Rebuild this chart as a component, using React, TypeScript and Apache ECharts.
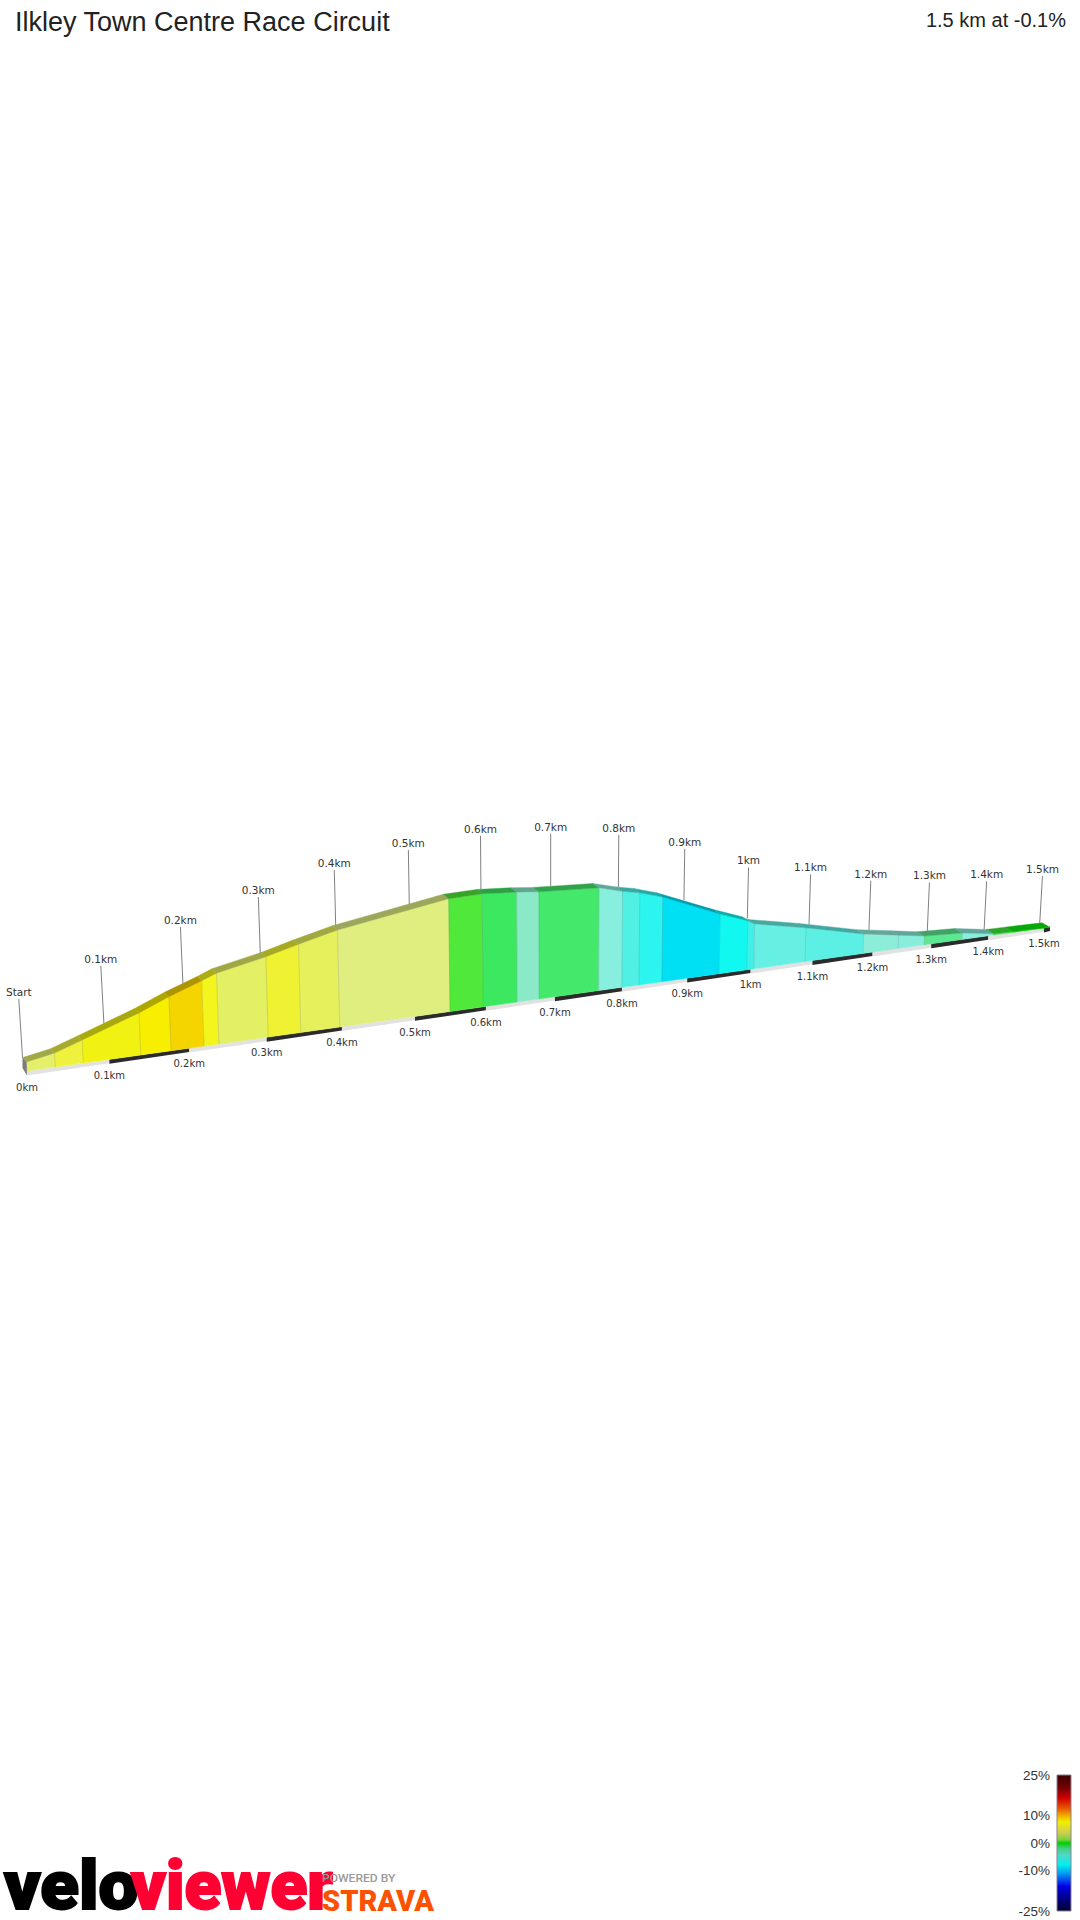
import React, { useEffect, useRef } from "react";
import * as echarts from "echarts";

const titleText = "Ilkley Town Centre Race Circuit";
const summaryText = "1.5 km at -0.1%";

// Segment boundaries along the route (km) and elevation above the base plane (m)
const boundaryKm = [0, 0.034, 0.068, 0.139, 0.177, 0.219, 0.238, 0.302, 0.345, 0.397, 0.549, 0.596, 0.645, 0.677, 0.765, 0.8, 0.826, 0.861, 0.95, 0.994, 1.005, 1.088, 1.184, 1.243, 1.288, 1.354, 1.41, 1.444, 1.511];
const elevationM = [1.8, 2.8, 4.65, 8.6, 11.1, 13.5, 14.7, 16.8, 18.6, 20.6, 24.5, 24.7, 24.2, 23.7, 23.0, 21.6, 20.8, 19.2, 13.7, 11.3, 10.4, 7.9, 4.6, 3.2, 2.1, 1.6, 0.3, 0.2, 0];
const segmentColors = ["#E4F06A", "#EEF23C", "#F2F212", "#F7EE00", "#F5D500", "#F5F51E", "#E4F064", "#EEF232", "#E6F05C", "#E0EE80", "#50E83A", "#3CE860", "#8AEAC8", "#44E86A", "#88EEDD", "#50F0E4", "#2CF4EE", "#00E0F5", "#10F8F0", "#40F0E8", "#66F0E4", "#5CF0E4", "#8CEED8", "#88EEDC", "#5CE890", "#88EEDC", "#40EC40", "#0CF00C"];

const tickKm = [0, 0.1, 0.2, 0.3, 0.4, 0.5, 0.6, 0.7, 0.8, 0.9, 1, 1.1, 1.2, 1.3, 1.4, 1.5];
const upperLabels = ["Start", "0.1km", "0.2km", "0.3km", "0.4km", "0.5km", "0.6km", "0.7km", "0.8km", "0.9km", "1km", "1.1km", "1.2km", "1.3km", "1.4km", "1.5km"];
const lowerLabels = ["0km", "0.1km", "0.2km", "0.3km", "0.4km", "0.5km", "0.6km", "0.7km", "0.8km", "0.9km", "1km", "1.1km", "1.2km", "1.3km", "1.4km", "1.5km"];
const roadBreaks = [0, 0.1, 0.2, 0.3, 0.4, 0.5, 0.6, 0.7, 0.8, 0.9, 1, 1.1, 1.2, 1.3, 1.4, 1.5, 1.511];

const legendTicks = [25, 10, 0, -10, -25];
const legendLabels = ["25%", "10%", "0%", "-10%", "-25%"];

// Projection of (km, metres) onto the page plane
const K = 0.1558;
const A = 836.4;
const X0 = 27;
const Y0 = 1071;
const baseX = (d: number) => X0 + (A * d) / (1 + K * d);
const baseY = (d: number) => Y0 - 0.1406 * (baseX(d) - X0);
const project = (d: number, e: number): [number, number] => {
  const bx = baseX(d);
  const h = (e * 5) / (1 + K * d);
  return [bx + h * (bx - 565) * 1e-4, baseY(d) - h];
};
const backOf = (p: [number, number], d: number): [number, number] => [p[0] - 4 - 2.67 * d, p[1] - 4.4];
const elevAt = (d: number) => {
  for (let i = 0; i < boundaryKm.length - 1; i++) {
    if (d <= boundaryKm[i + 1]) {
      const t = (d - boundaryKm[i]) / (boundaryKm[i + 1] - boundaryKm[i]);
      return elevationM[i] + t * (elevationM[i + 1] - elevationM[i]);
    }
  }
  return 0;
};
const darken = (hex: string, f: number) => {
  const n = parseInt(hex.slice(1), 16);
  const c = [(n >> 16) & 255, (n >> 8) & 255, n & 255].map((v) => Math.round(v * f));
  return `rgb(${c[0]},${c[1]},${c[2]})`;
};

const labelFont = "DejaVu Sans";

function buildOption() {
  const faces = segmentColors.map((_, i) => [boundaryKm[i], elevationM[i], boundaryKm[i + 1], elevationM[i + 1], i]);
  const road = roadBreaks.slice(0, -1).map((d, i) => [d, 0, roadBreaks[i + 1], i]);

  return {
    animation: false,
    backgroundColor: "#ffffff",
    title: [
      { text: titleText, left: 10, top: 3, textStyle: { fontFamily: "Liberation Sans", fontSize: 27, fontWeight: "normal", color: "#222222" } },
      { text: summaryText, right: 9, top: 5, textStyle: { fontFamily: "Liberation Sans", fontSize: 20, fontWeight: "normal", color: "#222222" } },
    ],
    grid: { left: 0, right: 0, top: 0, bottom: 0 },
    xAxis: { type: "value", min: 0, max: 1080, show: false },
    yAxis: { type: "value", min: 0, max: 1920, inverse: true, show: false },
    graphic: [
      {
        type: "rect",
        shape: { x: 1057, y: 1775, width: 14, height: 136 },
        style: {
          stroke: "#8f7f90",
          lineWidth: 1,
          fill: {
            type: "linear", x: 0, y: 0, x2: 0, y2: 1,
            colorStops: [
              { offset: 0, color: "#3A0000" }, { offset: 0.1, color: "#7A0000" }, { offset: 0.17, color: "#D00000" },
              { offset: 0.24, color: "#E85000" }, { offset: 0.3, color: "#F0B000" }, { offset: 0.345, color: "#F0F000" },
              { offset: 0.42, color: "#D0D050" }, { offset: 0.475, color: "#80D040" }, { offset: 0.5, color: "#00D000" },
              { offset: 0.54, color: "#40D080" }, { offset: 0.59, color: "#50D8C8" }, { offset: 0.66, color: "#00F0F0" },
              { offset: 0.72, color: "#00A0F0" }, { offset: 0.78, color: "#0040F0" }, { offset: 0.82, color: "#0000E0" },
              { offset: 0.9, color: "#000090" }, { offset: 1, color: "#000030" },
            ],
          },
        },
      },
      ...legendTicks.map((v, i) => ({
        type: "text",
        x: 1050,
        y: 1843 - v * 2.72,
        style: { text: legendLabels[i], fill: "#333333", fontFamily: "Liberation Sans", fontSize: 13.5, textAlign: "right", textVerticalAlign: "middle" },
      })),
      { type: "text", x: 4, y: 1920, scaleX: 1.03, style: { text: "velo", fill: "#000000", stroke: "#000000", lineWidth: 2, fontFamily: "Roboto", fontWeight: 900, fontSize: 69, textAlign: "left", textVerticalAlign: "bottom" } },
      { type: "text", x: 131, y: 1920, scaleX: 0.98, style: { text: "viewer", fill: "#FF0033", stroke: "#FF0033", lineWidth: 2, fontFamily: "Roboto", fontWeight: 900, fontSize: 69, textAlign: "left", textVerticalAlign: "bottom" } },
      { type: "text", x: 322, y: 1879, scaleX: 1.15, style: { text: "POWERED BY", fill: "#9a9a9a", fontFamily: "Roboto", fontSize: 10.5, fontWeight: 500, textAlign: "left", textVerticalAlign: "middle" } },
      { type: "text", x: 322, y: 1915, scaleX: 1.0, style: { text: "STRAVA", fill: "#FC5200", fontFamily: "Roboto", fontWeight: 900, fontSize: 29, textAlign: "left", textVerticalAlign: "bottom" } },
    ],
    series: [
      {
        type: "custom",
        name: "road",
        silent: true,
        clip: false,
        encode: { x: 0, y: 1 },
        data: road,
        renderItem: (_: any, api: any) => {
          const d0 = api.value(0), d1 = api.value(2), idx = api.value(3);
          const a = api.coord([baseX(d0), baseY(d0)]);
          const b = api.coord([baseX(d1), baseY(d1)]);
          return {
            type: "polygon",
            shape: { points: [a, b, [b[0], b[1] + 3.8], [a[0], a[1] + 4.4]] },
            style: { fill: idx % 2 === 1 || idx === 15 ? "#2B2B2B" : "#E2E2E2" },
          };
        },
      },
      {
        type: "custom",
        name: "profile",
        silent: true,
        clip: false,
        encode: { x: 0, y: 1 },
        data: faces,
        renderItem: (_: any, api: any) => {
          const d0 = api.value(0), e0 = api.value(1), d1 = api.value(2), e1 = api.value(3), i = api.value(4);
          const color = segmentColors[i];
          const pa = project(d0, e0), pb = project(d1, e1);
          const a = api.coord(pa), b = api.coord(pb);
          const c = api.coord([baseX(d1), baseY(d1)]), e = api.coord([baseX(d0), baseY(d0)]);
          const ba = api.coord(backOf(pa, d0)), bb = api.coord(backOf(pb, d1));
          const top = darken(color, 0.7);
          return {
            type: "group",
            children: [
              { type: "polygon", shape: { points: [a, b, c, e] }, style: { fill: color, stroke: color, lineWidth: 0.4 } },
              { type: "polygon", shape: { points: [a, b, bb, ba] }, style: { fill: top, stroke: top, lineWidth: 0.4 } },
              { type: "line", shape: { x1: a[0], y1: a[1], x2: e[0], y2: e[1] }, style: { stroke: "rgba(60,60,60,0.16)", lineWidth: 1 } },
            ],
          };
        },
      },
      {
        type: "custom",
        name: "endcap",
        silent: true,
        clip: false,
        encode: { x: 0, y: 1 },
        data: [[boundaryKm[0], elevationM[0]]],
        renderItem: (_: any, api: any) => {
          const d = api.value(0), e = api.value(1);
          const p = project(d, e);
          const a = api.coord(p), b = api.coord(backOf(p, d));
          const c = api.coord([baseX(d), baseY(d)]);
          return { type: "polygon", shape: { points: [a, [c[0], c[1] + 4.4], [b[0], c[1] - 3], b] }, style: { fill: "#7C7C7C" } };
        },
      },
      {
        type: "custom",
        name: "stems",
        silent: true,
        clip: false,
        encode: { x: 0, y: 1 },
        data: tickKm.map((d, i) => [d, elevAt(d), i]),
        renderItem: (_: any, api: any) => {
          const d = api.value(0), e = api.value(1), i = api.value(2);
          const back = backOf(project(d, e), d);
          const p: [number, number] = [back[0] + 2.5 * d, back[1]];
          const len = 58.5 / (1 + K * d);
          const top: [number, number] = [p[0] - len * (551 - p[0]) * 1.2e-4, p[1] - len];
          const a = api.coord(p), b = api.coord(top);
          const lx = api.coord([baseX(d), baseY(d)]);
          return {
            type: "group",
            children: [
              { type: "line", shape: { x1: a[0], y1: a[1], x2: b[0], y2: b[1] }, style: { stroke: "#808080", lineWidth: 1 } },
              { type: "text", style: { x: b[0], y: b[1] - 7, text: upperLabels[i], fill: "#333333", fontFamily: labelFont, fontSize: 10.5, textAlign: "center", textVerticalAlign: "middle" } },
              { type: "text", style: { x: lx[0], y: lx[1] + (i === 0 ? 16.7 : 15.7), text: lowerLabels[i], fill: "#333333", fontFamily: labelFont, fontSize: 10, textAlign: "center", textVerticalAlign: "middle" } },
            ],
          };
        },
      },
    ],
  };
}

export default function App() {
  const ref = useRef<HTMLDivElement>(null);
  useEffect(() => {
    document.body.style.margin = "0";
    const chart = echarts.init(ref.current!, undefined, { renderer: "svg" });
    chart.setOption(buildOption() as any);
    return () => chart.dispose();
  }, []);
  return <div ref={ref} style={{ width: 1080, height: 1920 }} />;
}
